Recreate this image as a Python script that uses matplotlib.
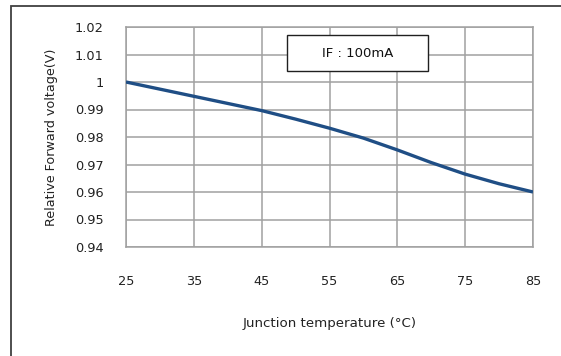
import matplotlib
matplotlib.use("Agg")
import matplotlib.pyplot as plt
from matplotlib.patches import Rectangle

temperature = [25, 30, 35, 40, 45, 50, 55, 60, 65, 70, 75, 80, 85]
rel_voltage = [1.000, 0.9974, 0.9948, 0.9922, 0.9896, 0.9865, 0.9832,
               0.9796, 0.9753, 0.9707, 0.9665, 0.9630, 0.9600]
x_ticks = [25, 35, 45, 55, 65, 75, 85]
y_ticks = [0.94, 0.95, 0.96, 0.97, 0.98, 0.99, 1.00, 1.01, 1.02]
y_tick_labels = ["0.94", "0.95", "0.96", "0.97", "0.98", "0.99", "1", "1.01", "1.02"]
annotation = "IF : 100mA"

W, H = 561, 356
fig = plt.figure(figsize=(W / 100, H / 100), dpi=100)
fig.patch.set_facecolor("white")

# outer frame (right and bottom edges cut off)
frame = Rectangle((10.5 / W, -0.1), 1.2, 1 - 5.5 / H + 0.1, transform=fig.transFigure,
                  fill=False, edgecolor="#404040", linewidth=1.3, zorder=0)
fig.patches.append(frame)

ax = fig.add_axes([126 / W, 1 - 247 / H, (533 - 126) / W, (247 - 27) / H])
ax.plot(temperature, rel_voltage, color="#1F4E85", linewidth=2.4,
        solid_capstyle="butt", zorder=3)

ax.set_xlim(25, 85)
ax.set_ylim(0.94, 1.02)
ax.set_xticks(x_ticks)
ax.set_yticks(y_ticks)
ax.set_yticklabels(y_tick_labels)
ax.grid(True, color="#A0A0A0", linewidth=1.1)
ax.set_axisbelow(True)
for s in ax.spines.values():
    s.set_color("#A0A0A0")
    s.set_linewidth(1.1)
ax.tick_params(axis="both", length=0, labelsize=9.3, colors="#222222")
ax.tick_params(axis="y", pad=16)
ax.tick_params(axis="x", pad=20)

ax.set_ylabel("Relative Forward voltage(V)", fontsize=9.2, color="#222222", labelpad=12)
ax.set_xlabel("Junction temperature (°C)", fontsize=9.6, color="#222222", labelpad=21)

# annotation box
box = Rectangle((0.3956, 0.80), 0.3464, 0.1636, transform=ax.transAxes,
                facecolor="white", edgecolor="#202020", linewidth=1.0, zorder=5)
ax.add_patch(box)
ax.text(0.3956 + 0.3464 / 2, 0.80 + 0.1636 / 2, annotation, transform=ax.transAxes,
        ha="center", va="center", fontsize=9.5, color="#111111", zorder=6)

fig.savefig("out.png", dpi=100)
